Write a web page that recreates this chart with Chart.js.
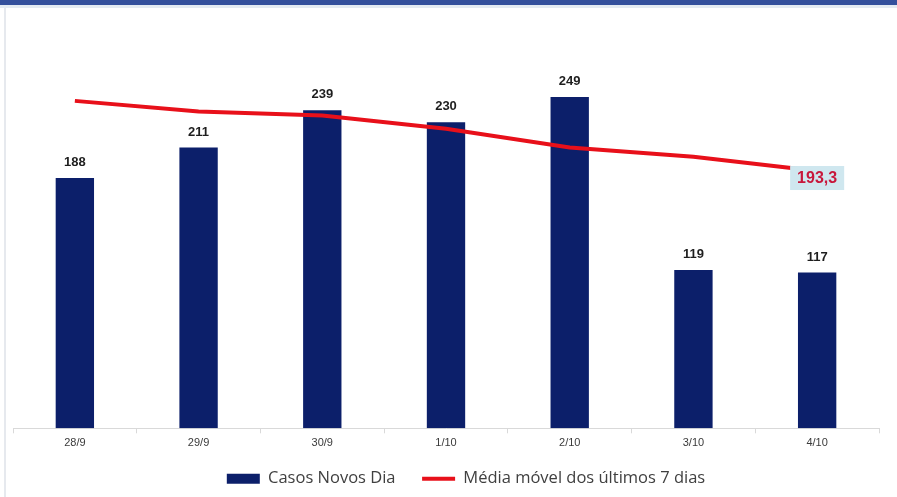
<!DOCTYPE html>
<html>
<head>
<meta charset="utf-8">
<script src="https://cdn.jsdelivr.net/npm/chart.js@4"></script>
<style>
  body { margin: 0; background: #fff; }
  #wrap { position: relative; width: 897px; height: 497px; overflow: hidden; }
  #topbar { position: absolute; left: 0; top: 0; width: 897px; height: 5px; background: #34509c; }
  #topline { position: absolute; left: 0; top: 5px; width: 897px; height: 3px; background: #e4ebf2; }
  #leftline { position: absolute; left: 4px; top: 8px; width: 2px; height: 489px; background: #e6e9ee; }
  canvas { position: absolute; left: 0; top: 0; }
</style>
</head>
<body>
<div id="wrap">
  <div id="topbar"></div>
  <div id="topline"></div>
  <div id="leftline"></div>
  <canvas id="chart" width="897" height="497"></canvas>
</div>
<script>
const days = ["28/9", "29/9", "30/9", "1/10", "2/10", "3/10", "4/10"];
const newCases = [188, 211, 239, 230, 249, 119, 117];
const movingAvg = [246, 238, 235, 225, 211, 204, 193.3];

const labelPlugin = {
  id: "labels",
  afterLayout(chart) {
    // legend in the original sits a bit right of centre
    chart.legend.left += 20;
    chart.legend.right += 20;
  },
  afterDatasetsDraw(chart) {
    const ctx = chart.ctx;
    ctx.save();
    // values above bars
    const bars = chart.getDatasetMeta(1);
    ctx.font = "bold 13px 'Liberation Sans', Arial, sans-serif";
    ctx.fillStyle = "#1e1e1e";
    ctx.textAlign = "center";
    ctx.textBaseline = "bottom";
    bars.data.forEach((bar, i) => {
      ctx.fillText(newCases[i], bar.x, bar.y - 9);
    });
    // last value of the moving average
    const line = chart.getDatasetMeta(0);
    const last = line.data[line.data.length - 1];
    const txt = movingAvg[movingAvg.length - 1].toString().replace(".", ",");
    ctx.font = "bold 16px 'Liberation Sans', Arial, sans-serif";
    const w = ctx.measureText(txt).width + 14;
    const cy = last.y + 7;
    ctx.fillStyle = "#cfe7ef";
    ctx.fillRect(last.x - w / 2, cy - 12, w, 24);
    ctx.fillStyle = "#c8183c";
    ctx.textBaseline = "middle";
    ctx.fillText(txt, last.x, cy + 1);
    ctx.restore();
  }
};

new Chart(document.getElementById("chart"), {
  data: {
    labels: days,
    datasets: [
      {
        type: "line",
        label: "Média móvel dos últimos 7 dias",
        data: movingAvg,
        borderColor: "#e8101a",
        backgroundColor: "#e8101a",
        borderWidth: 4,
        pointRadius: 0,
        tension: 0,
        order: 0
      },
      {
        type: "bar",
        label: "Casos Novos Dia",
        data: newCases,
        backgroundColor: "#0c1f6a",
        borderColor: "#0c1f6a",
        categoryPercentage: 1,
        barPercentage: 0.31,
        order: 1
      }
    ]
  },
  plugins: [labelPlugin],
  options: {
    responsive: false,
    animation: false,
    layout: { padding: { top: 29, left: 13, right: 18, bottom: 0 } },
    plugins: {
      tooltip: { enabled: false },
      legend: {
        position: "bottom",
        reverse: true,
        labels: {
          usePointStyle: true,
          pointStyleWidth: 33,
          boxHeight: 10,
          padding: 18,
          color: "#404040",
          font: { family: "'Open Sans', sans-serif", size: 16.5 },
          generateLabels(chart) {
            const items = Chart.defaults.plugins.legend.labels.generateLabels(chart);
            items.forEach((it) => {
              if (it.datasetIndex === 0) {
                it.pointStyle = "line";
                it.strokeStyle = "#e8101a";
                it.lineWidth = 4;
              } else {
                it.pointStyle = "rect";
                it.lineWidth = 0;
                it.text = it.text + "  ";
              }
            });
            return items;
          }
        }
      }
    },
    scales: {
      x: {
        grid: { display: true, drawOnChartArea: false, color: "#d9d9d9", tickLength: 5, offset: true },
        border: { display: true, color: "#d9d9d9", width: 1 },
        ticks: { color: "#3a3a3a", font: { family: "'Liberation Sans', Arial, sans-serif", size: 11 }, padding: 3 }
      },
      y: {
        display: false,
        min: 0,
        max: 300
      }
    }
  }
});
</script>
</body>
</html>
